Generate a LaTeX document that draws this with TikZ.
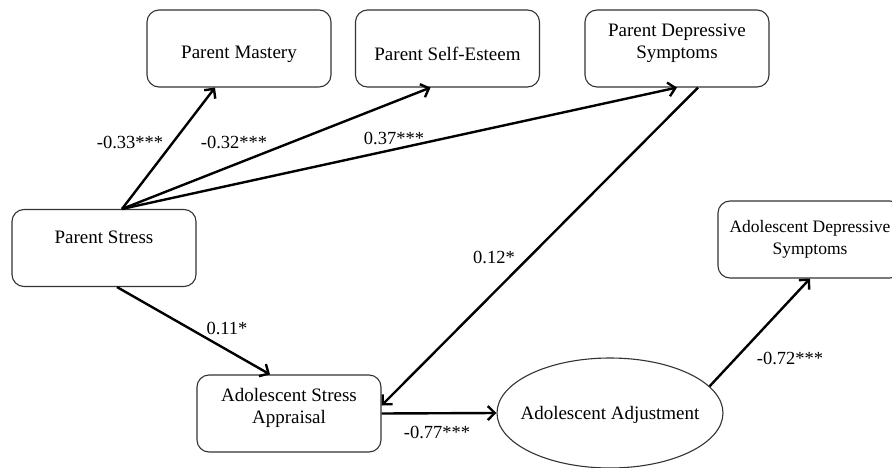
\documentclass[tikz,border=0pt]{standalone}
\usepackage{fontspec}
\setmainfont{Liberation Serif}
\usetikzlibrary{shapes,arrows.meta,positioning}

\begin{document}
\begin{tikzpicture}[
    x=1pt, y=-1pt,
    box/.style={rectangle, draw=black!80, line width=1.1pt, rounded corners=12pt, minimum width=184pt, minimum height=77pt, align=center, font=\fontsize{19}{22}\selectfont},
    sunk/.style={text height=25pt},
    oval/.style={ellipse, draw=black!80, line width=1.1pt, inner sep=0pt, minimum width=226pt, minimum height=110pt, text height=17pt, font=\fontsize{19}{22}\selectfont},
    arrow/.style={-{Straight Barb[length=7pt, width=14pt, line width=2.4pt]}, line width=2.4pt},
    coef/.style={font=\fontsize{18.5}{20}\selectfont, inner sep=0pt}
]
    \useasboundingbox (0,0) rectangle (892,468);
    \clip (0,0) rectangle (892,468);

    % parent side
    \node[box, sunk] (mastery) at (239,48.5) {Parent Mastery};
    \node[box, sunk] (esteem) at (447.5,48.5) {Parent Self-Esteem};
    \node[box, sunk] (pdep) at (677,48.5) {Parent Depressive\\Symptoms};
    \node[box, text depth=22pt] (pstress) at (104,248) {Parent Stress};

    % adolescent side
    \node[box, sunk] (appraisal) at (289,413.5) {Adolescent Stress\\Appraisal};
    \node[oval] (adjust) at (610,413) {\makebox[0pt]{Adolescent Adjustment}};
    \node[box, font=\fontsize{17.5}{22}\selectfont] (adep) at (810,239.5) {Adolescent Depressive\\Symptoms};

    % paths
    \draw[arrow] ([xshift=18pt]pstress.north) -- ([xshift=-24pt]mastery.south);
    \draw[arrow] ([xshift=18pt]pstress.north) -- ([xshift=-17pt]esteem.south);
    \draw[arrow] ([xshift=18pt]pstress.north) -- (pdep.south);
    \draw[arrow] ([xshift=13pt]pstress.south) -- ([xshift=-19pt]appraisal.north);
    \draw[arrow] ([xshift=21pt]pdep.south) -- ([yshift=8pt]appraisal.east);
    \draw[arrow] (appraisal.east) -- (adjust.west);
    \draw[arrow] (adjust.15) -- (adep.south);

    % coefficients
    \node[coef] (c1) at (130,142) {-0.33***};
    \node[coef] (c2) at (234,142) {-0.32***};
    \node[coef] (c3) at (394,138) {0.37***};
    \node[coef] (c4) at (227,328) {0.11*};
    \node[coef] (c5) at (494,257) {0.12*};
    \node[coef] (c6) at (437,432) {-0.77***};
    \node[coef] (c7) at (790,358) {-0.72***};
\end{tikzpicture}
\end{document}
